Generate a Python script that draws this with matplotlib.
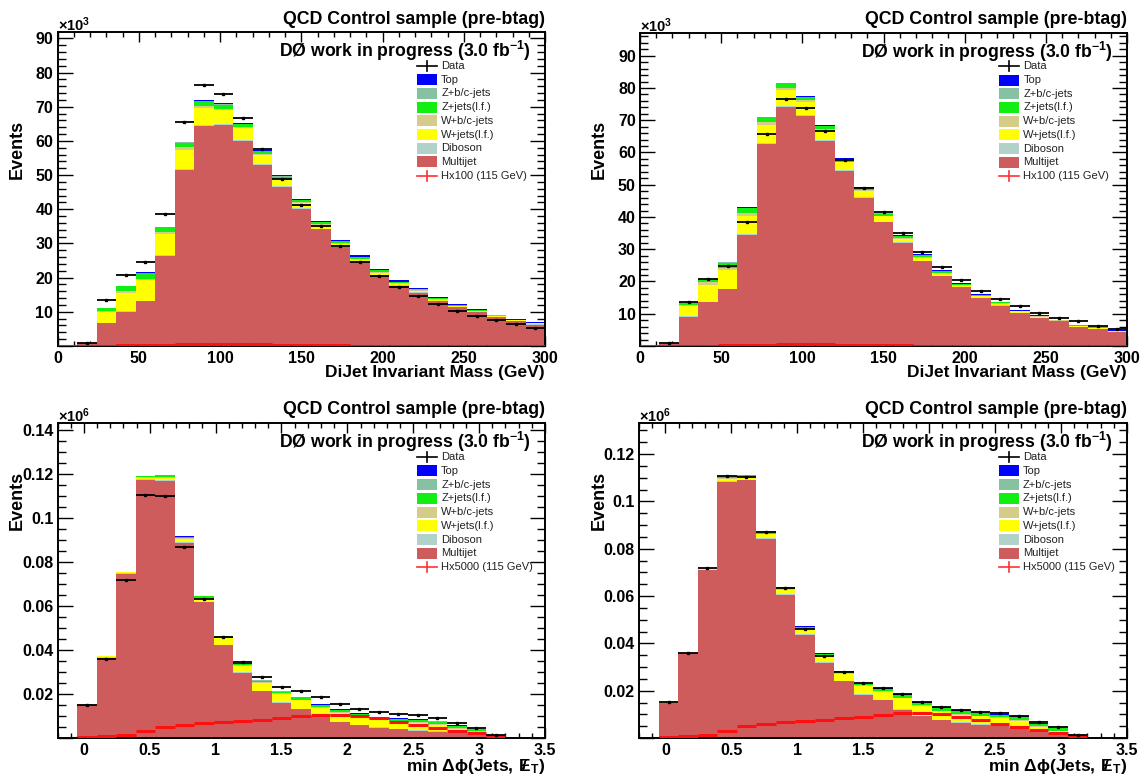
import numpy as np
import matplotlib
matplotlib.use("Agg")
import matplotlib.pyplot as plt
from matplotlib.ticker import MultipleLocator, FuncFormatter
from matplotlib.patches import Rectangle
from matplotlib.lines import Line2D

plt.rcParams['font.family'] = ['Liberation Sans', 'DejaVu Sans']
plt.rcParams['mathtext.fontset'] = 'custom'
plt.rcParams['mathtext.rm'] = 'Liberation Sans:bold'
plt.rcParams['mathtext.it'] = 'Liberation Sans:bold'
plt.rcParams['mathtext.bf'] = 'Liberation Sans:bold'
plt.rcParams['mathtext.sf'] = 'Liberation Sans'

# ---------------- data ----------------
legend_labels = ["Data", "Top", "Z+b/c-jets", "Z+jets(l.f.)", "W+b/c-jets",
                 "W+jets(l.f.)", "Diboson", "Multijet"]
comp_colors = {"Multijet": "#cf5c5c", "Diboson": "#b0d2c8", "W+jets(l.f.)": "#ffff00",
               "W+b/c-jets": "#d4cc88", "Z+jets(l.f.)": "#11ee11", "Z+b/c-jets": "#86c1a1",
               "Top": "#0000ff"}
stack_order = ["Multijet", "Diboson", "W+jets(l.f.)", "W+b/c-jets", "Z+jets(l.f.)", "Z+b/c-jets", "Top"]

# DiJet invariant mass, 12 GeV bins, 0-300 GeV (units of 10^3 events)
mass_bin_edges = np.linspace(0, 300, 26)
mass_data = [0.0, 1.0, 13.6, 20.7, 24.7, 38.5, 65.6, 76.5, 73.8, 66.6, 57.6, 48.9, 41.4,
             35.0, 29.2, 24.5, 20.4, 17.2, 14.6, 12.4, 10.3, 8.8, 7.6, 6.3, 5.4]
mass_sig = [0.0, 0.05, 0.1, 0.15, 0.2, 0.3, 0.45, 0.55, 0.6, 0.55, 0.45, 0.35, 0.25,
            0.2, 0.15, 0.1, 0.1, 0.07, 0.05, 0.04, 0.03, 0.02, 0.02, 0.01, 0.01]

# left: MC normalisation A
mA_multijet = [0, 0.5, 6.6, 10.0, 13.1, 26.2, 51.4, 64.5, 64.7, 60.1, 53.1, 46.6, 40.2,
               34.2, 28.9, 24.5, 20.6, 17.7, 15.6, 13.2, 11.4, 9.9, 8.4, 7.2, 6.2]
mA_diboson = [0, 0, 0.2, 0.2, 0.2, 0.3, 0.3, 0.3, 0.3, 0.2, 0.2, 0.2, 0.2,
              0.1, 0.1, 0.1, 0.1, 0.1, 0.1, 0.1, 0.1, 0.1, 0.1, 0.1, 0.1]
mA_wlf = [0, 0.2, 3.2, 5.3, 5.9, 6.3, 5.8, 5.0, 4.2, 3.4, 2.7, 1.9, 1.4,
          1.2, 0.9, 0.8, 0.8, 0.6, 0.5, 0.4, 0.3, 0.3, 0.2, 0.2, 0.3]
mA_wbc = [0, 0, 0.3, 0.5, 0.5, 0.5, 0.6, 0.5, 0.3, 0.3, 0.3, 0.2, 0.2,
          0.2, 0.1, 0.1, 0.1, 0.1, 0.1, 0.05, 0.05, 0.05, 0.05, 0.05, 0.05]
mA_zlf = [0, 0.1, 0.7, 1.5, 1.7, 1.4, 1.4, 1.4, 1.1, 1.0, 0.7, 0.7, 0.6,
          0.6, 0.6, 0.5, 0.5, 0.3, 0.2, 0.2, 0.15, 0.15, 0.15, 0.1, 0.1]
mA_zbc = [0, 0, 0.1, 0.1, 0.1, 0.1, 0.1, 0.1, 0.1, 0.1, 0.1, 0.1, 0.1,
          0.1, 0.1, 0.1, 0.1, 0.05, 0.05, 0.05, 0.05, 0.05, 0.05, 0.05, 0.05]
mA_top = [0, 0, 0.05, 0.1, 0.1, 0.1, 0.1, 0.2, 0.3, 0.3, 0.3, 0.3, 0.3,
          0.3, 0.4, 0.4, 0.4, 0.4, 0.3, 0.2, 0.2, 0.2, 0.1, 0.1, 0.3]

# right: MC normalisation B
mB_multijet = [0, 0.6, 9.1, 13.5, 17.6, 34.3, 62.6, 74.0, 71.2, 63.6, 54.4, 46.0, 38.4,
               32.0, 26.4, 21.7, 18.2, 14.9, 12.5, 10.2, 8.7, 7.6, 5.8, 5.3, 4.3]
mB_diboson = [0, 0, 0.2, 0.2, 0.2, 0.3, 0.3, 0.3, 0.3, 0.3, 0.2, 0.2, 0.2,
              0.1, 0.1, 0.1, 0.1, 0.1, 0.1, 0.1, 0.1, 0.1, 0.1, 0.1, 0.1]
mB_wlf = [0, 0.2, 3.2, 5.3, 5.8, 5.8, 5.7, 5.1, 4.3, 3.0, 2.3, 1.9, 1.6,
          1.2, 0.9, 0.8, 0.5, 0.5, 0.5, 0.4, 0.3, 0.2, 0.3, 0.2, 0.2]
mB_wbc = [0, 0, 0.3, 0.7, 0.7, 0.8, 0.8, 0.6, 0.4, 0.3, 0.2, 0.2, 0.2,
          0.1, 0.1, 0.1, 0.1, 0.1, 0.1, 0.05, 0.05, 0.05, 0.05, 0.05, 0.05]
mB_zlf = [0, 0, 0.5, 1.0, 1.5, 1.5, 1.5, 1.4, 1.0, 1.0, 0.8, 0.6, 0.6,
          0.6, 0.6, 0.6, 0.4, 0.3, 0.3, 0.2, 0.2, 0.1, 0.2, 0.1, 0.1]
mB_zbc = [0, 0, 0.05, 0.1, 0.1, 0.1, 0.1, 0.1, 0.1, 0.1, 0.1, 0.1, 0.1,
          0.1, 0.1, 0.1, 0.05, 0.05, 0.05, 0.05, 0.05, 0.05, 0.05, 0.05, 0.05]
mB_top = [0, 0, 0.05, 0.1, 0.1, 0.3, 0.1, 0.1, 0.3, 0.2, 0.3, 0.2, 0.2,
          0.2, 0.3, 0.2, 0.2, 0.3, 0.2, 0.1, 0.1, 0.1, 0.1, 0.1, 0.1]

# min delta-phi(jets, MET), 22 bins (units of 10^6 events)
dphi_bin_edges = np.linspace(-0.05, 3.2, 23)
dphi_data = [0.0151, 0.0359, 0.0717, 0.1107, 0.1101, 0.0871, 0.0634, 0.0461, 0.0348, 0.0278,
             0.0234, 0.0213, 0.0188, 0.0154, 0.0132, 0.0118, 0.0109, 0.0104, 0.0092, 0.0068,
             0.0047, 0.0013]
dphi_sig = [0.0003, 0.0007, 0.0013, 0.0031, 0.0049, 0.0059, 0.0066, 0.0071, 0.0078, 0.0084,
            0.0089, 0.0099, 0.0105, 0.0106, 0.0102, 0.0090, 0.0074, 0.0060, 0.0046, 0.0033,
            0.0022, 0.0010]

dA_multijet = [0.0152, 0.0366, 0.0748, 0.1175, 0.1170, 0.0887, 0.0617, 0.0421, 0.0296, 0.0213,
               0.0160, 0.0130, 0.0099, 0.0072, 0.0057, 0.0046, 0.0039, 0.0034, 0.0028, 0.0024,
               0.0019, 0.0009]
dA_diboson = [0.0001, 0.0002, 0.0002, 0.0003, 0.0003, 0.0003, 0.0003, 0.0003, 0.0002, 0.0002,
              0.0002, 0.0002, 0.0002, 0.0002, 0.0002, 0.0002, 0.0002, 0.0002, 0.0002, 0.0002,
              0.0002, 0.0001]
dA_wlf = [0.0002, 0.0004, 0.0004, 0.0006, 0.0012, 0.0016, 0.0017, 0.0030, 0.0030, 0.0034,
          0.0039, 0.0039, 0.0035, 0.0039, 0.0039, 0.0033, 0.0032, 0.0034, 0.0031, 0.0015,
          0.0008, 0.0002]
dA_wbc = [0, 0, 0.0001, 0.0002, 0.0002, 0.0002, 0.0002, 0.0003, 0.0003, 0.0004,
          0.0004, 0.0004, 0.0005, 0.0004, 0.0004, 0.0004, 0.0004, 0.0004, 0.0004, 0.0003,
          0.0002, 0.0001]
dA_zlf = [0.0001, 0.0002, 0.0002, 0.0007, 0.0008, 0.0007, 0.0007, 0.0006, 0.0006, 0.0008,
          0.0006, 0.0010, 0.0010, 0.0010, 0.0008, 0.0008, 0.0009, 0.0009, 0.0010, 0.0010,
          0.0009, 0.0001]
dA_zbc = [0, 0, 0, 0.0001, 0.0001, 0.0001, 0.0001, 0.0001, 0.0001, 0.0001,
          0.0001, 0.0001, 0.0001, 0.0001, 0.0001, 0.0001, 0.0001, 0.0001, 0.0001, 0.0001,
          0.0001, 0]
dA_top = [0, 0, 0, 0, 0, 0.0001, 0.0001, 0.0001, 0.0003, 0.0003,
          0.0002, 0.0002, 0.0003, 0.0005, 0.0004, 0.0003, 0.0004, 0.0002, 0.0002, 0.0002,
          0.0001, 0]

dB_multijet = [0.0148, 0.0353, 0.0709, 0.1081, 0.1089, 0.0842, 0.0604, 0.0435, 0.0319, 0.0240,
               0.0183, 0.0160, 0.0120, 0.0092, 0.0075, 0.0064, 0.0057, 0.0050, 0.0040, 0.0029,
               0.0022, 0.0009]
dB_diboson = [0.0001, 0.0002, 0.0002, 0.0003, 0.0003, 0.0003, 0.0003, 0.0003, 0.0003, 0.0002,
              0.0002, 0.0002, 0.0002, 0.0002, 0.0002, 0.0002, 0.0002, 0.0002, 0.0002, 0.0002,
              0.0002, 0.0001]
dB_wlf = [0.0002, 0.0002, 0.0002, 0.0012, 0.0010, 0.0017, 0.0019, 0.0018, 0.0023, 0.0028,
          0.0036, 0.0034, 0.0045, 0.0041, 0.0035, 0.0033, 0.0032, 0.0032, 0.0030, 0.0015,
          0.0005, 0.0002]
dB_wbc = [0, 0, 0.0001, 0.0002, 0.0002, 0.0002, 0.0002, 0.0003, 0.0003, 0.0003,
          0.0004, 0.0004, 0.0004, 0.0004, 0.0004, 0.0004, 0.0004, 0.0004, 0.0004, 0.0003,
          0.0002, 0.0001]
dB_zlf = [0.0001, 0.0001, 0.0001, 0.0008, 0.0006, 0.0008, 0.0008, 0.0008, 0.0007, 0.0006,
          0.0006, 0.0008, 0.0010, 0.0010, 0.0010, 0.0012, 0.0012, 0.0010, 0.0012, 0.0011,
          0.0010, 0.0001]
dB_zbc = [0, 0, 0, 0.0001, 0.0001, 0.0001, 0.0001, 0.0001, 0.0001, 0.0001,
          0.0001, 0.0001, 0.0001, 0.0001, 0.0001, 0.0001, 0.0001, 0.0001, 0.0001, 0.0001,
          0.0001, 0]
dB_top = [0, 0, 0, 0.0001, 0.0001, 0.0001, 0.0001, 0.0004, 0.0004, 0.0004,
          0.0002, 0.0002, 0.0005, 0.0004, 0.0003, 0.0002, 0.0002, 0.0002, 0.0002, 0.0002,
          0.0001, 0]

# ---------------- drawing ----------------
W, H = 1144, 781
fig = plt.figure(figsize=(W / 100, H / 100), dpi=100)


def pos(l, t, r, b):
    return [l / W, 1 - b / H, (r - l) / W, (b - t) / H]


def draw_panel(ax, edges, comps, data, sig, scale, xlim, ylim, xmaj, xmin_, ymaj, ymin_,
               sig_label, exp_label, xfmt):
    edges = np.asarray(edges)
    widths = np.diff(edges)
    centers = edges[:-1] + widths / 2
    bottom = np.zeros(len(centers))
    for name in stack_order:
        vals = np.asarray(comps[name], dtype=float)
        ax.bar(edges[:-1], vals, width=widths, bottom=bottom, align='edge',
               color=comp_colors[name], linewidth=0, zorder=2)
        bottom = bottom + vals
    sig = np.asarray(sig, dtype=float)
    ax.errorbar(centers, sig, xerr=widths / 2, fmt='none', ecolor='#ff1010',
                elinewidth=2.2, capsize=0, zorder=4)
    data = np.asarray(data, dtype=float)
    m = data > 0
    yerr = np.sqrt(data[m] * scale) / scale
    ax.errorbar(centers[m], data[m], xerr=widths[m] / 2, yerr=yerr, fmt='s', color='black',
                ms=1.9, elinewidth=1.3, capsize=0, zorder=5)
    ax.set_xlim(*xlim)
    ax.set_ylim(*ylim)
    ax.xaxis.set_major_locator(MultipleLocator(xmaj))
    ax.xaxis.set_minor_locator(MultipleLocator(xmin_))
    ax.yaxis.set_major_locator(MultipleLocator(ymaj))
    ax.yaxis.set_minor_locator(MultipleLocator(ymin_))
    ax.xaxis.set_major_formatter(FuncFormatter(xfmt))
    ax.yaxis.set_major_formatter(FuncFormatter(lambda v, p: '' if abs(v) < 1e-9 else ('%g' % round(v, 6))))
    ax.tick_params(axis='x', which='major', direction='in', length=7, width=1.0, top=True,
                   labelsize=11.5, pad=3.5)
    ax.tick_params(axis='x', which='minor', direction='in', length=3.5, width=1.0, top=True)
    ax.tick_params(axis='y', which='major', direction='in', length=11, width=1.0, right=True,
                   labelsize=11.5, pad=3)
    ax.tick_params(axis='y', which='minor', direction='in', length=5.5, width=1.0, right=True)
    for lab in ax.get_xticklabels() + ax.get_yticklabels():
        lab.set_fontweight('bold')
    for s in ax.spines.values():
        s.set_linewidth(1.4)
    # titles
    ax.text(1.0, 1.0 + 13 / 314, 'QCD Control sample (pre-btag)', transform=ax.transAxes,
            ha='right', va='center', fontsize=12.8, fontweight='bold')
    ax.text(0.972, 1 - 19 / 314, r'DØ work in progress (3.0 fb$^{-1}$)', transform=ax.transAxes,
            ha='right', va='center', fontsize=12.7, fontweight='bold')
    ax.text(0.0, 1.0 + 7 / 314, exp_label, transform=ax.transAxes, ha='left', va='center',
            fontsize=10.5, fontweight='bold')
    # legend (drawn like the ROOT legend)
    bx0, bx1, tx = 0.737, 0.779, 0.787
    y0 = 1 - 34 / 314
    dy = 13.7 / 314
    entries = legend_labels + [sig_label]
    for i, lab in enumerate(entries):
        yy = y0 - i * dy
        if lab == "Data" or lab == sig_label:
            c = 'black' if lab == "Data" else '#ff3030'
            ax.add_line(Line2D([bx0, bx1], [yy, yy], transform=ax.transAxes, color=c, lw=1.2,
                               clip_on=False, zorder=6))
            xm = (bx0 + bx1) / 2
            ax.add_line(Line2D([xm, xm], [yy - 5 / 314, yy + 5 / 314], transform=ax.transAxes,
                               color=c, lw=1.2, clip_on=False, zorder=6))
        else:
            ax.add_patch(Rectangle((bx0, yy - 5.5 / 314), bx1 - bx0, 11 / 314,
                                   transform=ax.transAxes, color=comp_colors[lab], lw=0,
                                   clip_on=False, zorder=6))
        ax.text(tx, yy, lab, transform=ax.transAxes, ha='left', va='center', fontsize=8,
                color='#222222', zorder=7)


def fmt_mass(v, p):
    return '%d' % round(v)


def fmt_dphi(v, p):
    return '%g' % round(v, 3)


mass_A = {"Multijet": mA_multijet, "Diboson": mA_diboson, "W+jets(l.f.)": mA_wlf,
          "W+b/c-jets": mA_wbc, "Z+jets(l.f.)": mA_zlf, "Z+b/c-jets": mA_zbc, "Top": mA_top}
mass_B = {"Multijet": mB_multijet, "Diboson": mB_diboson, "W+jets(l.f.)": mB_wlf,
          "W+b/c-jets": mB_wbc, "Z+jets(l.f.)": mB_zlf, "Z+b/c-jets": mB_zbc, "Top": mB_top}
dphi_A = {"Multijet": dA_multijet, "Diboson": dA_diboson, "W+jets(l.f.)": dA_wlf,
          "W+b/c-jets": dA_wbc, "Z+jets(l.f.)": dA_zlf, "Z+b/c-jets": dA_zbc, "Top": dA_top}
dphi_B = {"Multijet": dB_multijet, "Diboson": dB_diboson, "W+jets(l.f.)": dB_wlf,
          "W+b/c-jets": dB_wbc, "Z+jets(l.f.)": dB_zlf, "Z+b/c-jets": dB_zbc, "Top": dB_top}

ax1 = fig.add_axes(pos(57.5, 32, 545, 346))
draw_panel(ax1, mass_bin_edges, mass_A, mass_data, mass_sig, 1e3, (0, 300), (0, 91.9),
           50, 10, 10, 2, "Hx100 (115 GeV)", r'$\times$10$^{3}$', fmt_mass)
ax2 = fig.add_axes(pos(640, 32.5, 1127, 346))
draw_panel(ax2, mass_bin_edges, mass_B, mass_data, mass_sig, 1e3, (0, 300), (0, 97.2),
           50, 10, 10, 2, "Hx100 (115 GeV)", r'$\times$10$^{3}$', fmt_mass)
ax3 = fig.add_axes(pos(57.5, 423, 545, 738))
draw_panel(ax3, dphi_bin_edges, dphi_A, dphi_data, dphi_sig, 1e6, (-0.2, 3.5), (0, 0.1433),
           0.5, 0.1, 0.02, 0.005, "Hx5000 (115 GeV)", r'$\times$10$^{6}$', fmt_dphi)
ax4 = fig.add_axes(pos(639, 423, 1127, 738))
draw_panel(ax4, dphi_bin_edges, dphi_B, dphi_data, dphi_sig, 1e6, (-0.2, 3.5), (0, 0.1331),
           0.5, 0.1, 0.02, 0.005, "Hx5000 (115 GeV)", r'$\times$10$^{6}$', fmt_dphi)

# axis titles
for (x, y) in [(17, 149), (599, 149), (17, 500), (599, 500)]:
    fig.text(x / W, 1 - y / H, 'Events', rotation=90, ha='center', va='center',
             fontsize=13, fontweight='bold')
for xr in (545, 1127):
    fig.text(xr / W, 1 - 373 / H, 'DiJet Invariant Mass (GeV)', ha='right', va='center',
             fontsize=12.5, fontweight='bold')
    fig.text(xr / W, 1 - 767 / H, r'min $\Delta\phi$(Jets, $\;/\!\!\!E_{T}$)', ha='right',
             va='center', fontsize=12.5, fontweight='bold')

fig.savefig('out.png', dpi=100)
